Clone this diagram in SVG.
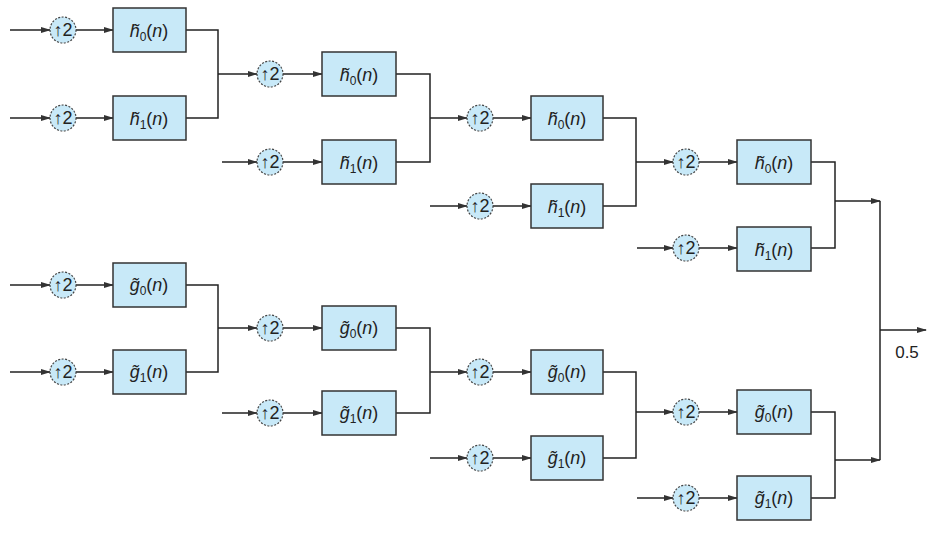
<svg xmlns="http://www.w3.org/2000/svg" width="934" height="535" viewBox="0 0 934 535">
<defs>
<marker id="a" markerWidth="10" markerHeight="8" refX="9" refY="4" orient="auto" markerUnits="userSpaceOnUse"><path d="M0,1 L10,4 L0,7 z" fill="#333"/></marker>
<style>
.b{fill:#c8e9f8;stroke:#333;stroke-width:1.5}
.c{fill:#c8e9f8;stroke:#444;stroke-width:1.2;stroke-dasharray:2 1.5}
.l{fill:none;stroke:#222;stroke-width:1.5}
.w{stroke:#222;stroke-width:1.5;marker-end:url(#a)}
.t{font-family:"Liberation Sans",Arial,sans-serif;font-size:18px;fill:#222;text-anchor:middle}
.i{font-style:italic}
.s{font-size:12px}
</style>
</defs>
<g id="connectors">
<!-- h stage1 -->
<line class="w" x1="10" y1="30" x2="50" y2="30"/><line class="w" x1="76" y1="30" x2="113" y2="30"/>
<line class="w" x1="10" y1="118" x2="50" y2="118"/><line class="w" x1="76" y1="118" x2="113" y2="118"/>
<path class="l" d="M186,30 H218 V118 H186"/><line class="w" x1="218" y1="74" x2="257" y2="74"/>
<!-- h stage2 -->
<line class="w" x1="283" y1="74" x2="322" y2="74"/>
<line class="w" x1="222" y1="162" x2="257" y2="162"/><line class="w" x1="283" y1="162" x2="322" y2="162"/>
<path class="l" d="M396,74 H430 V162 H396"/><line class="w" x1="430" y1="118" x2="467" y2="118"/>
<!-- h stage3 -->
<line class="w" x1="493" y1="118" x2="531" y2="118"/>
<line class="w" x1="430" y1="206" x2="467" y2="206"/><line class="w" x1="493" y1="206" x2="531" y2="206"/>
<path class="l" d="M603,118 H636 V206 H603"/><line class="w" x1="636" y1="162" x2="673" y2="162"/>
<!-- h stage4 -->
<line class="w" x1="699" y1="162" x2="737" y2="162"/>
<line class="w" x1="637" y1="248" x2="673" y2="248"/><line class="w" x1="699" y1="248" x2="737" y2="248"/>
<path class="l" d="M811,162 H835 V248 H811"/><line class="w" x1="835" y1="201" x2="880" y2="201"/>
<!-- g stage1 -->
<line class="w" x1="10" y1="285" x2="50" y2="285"/><line class="w" x1="76" y1="285" x2="113" y2="285"/>
<line class="w" x1="10" y1="372" x2="50" y2="372"/><line class="w" x1="76" y1="372" x2="113" y2="372"/>
<path class="l" d="M186,285 H218 V372 H186"/><line class="w" x1="218" y1="328" x2="257" y2="328"/>
<!-- g stage2 -->
<line class="w" x1="283" y1="328" x2="322" y2="328"/>
<line class="w" x1="222" y1="413" x2="257" y2="413"/><line class="w" x1="283" y1="413" x2="322" y2="413"/>
<path class="l" d="M396,328 H430 V413 H396"/><line class="w" x1="430" y1="372" x2="467" y2="372"/>
<!-- g stage3 -->
<line class="w" x1="493" y1="372" x2="531" y2="372"/>
<line class="w" x1="430" y1="458" x2="467" y2="458"/><line class="w" x1="493" y1="458" x2="531" y2="458"/>
<path class="l" d="M603,372 H636 V458 H603"/><line class="w" x1="636" y1="412" x2="673" y2="412"/>
<!-- g stage4 -->
<line class="w" x1="699" y1="412" x2="737" y2="412"/>
<line class="w" x1="637" y1="498" x2="673" y2="498"/><line class="w" x1="699" y1="498" x2="737" y2="498"/>
<path class="l" d="M811,412 H835 V498 H811"/><line class="w" x1="835" y1="460" x2="880" y2="460"/>
<!-- final -->
<line class="l" x1="880" y1="201" x2="880" y2="460"/>
<line class="w" x1="880" y1="330" x2="926" y2="330"/>
</g>
<text class="t" x="907" y="358" style="font-size:17px">0.5</text>
<g id="up">
<g id="u1"><circle class="c" cx="63" cy="30" r="13"/><text class="t" x="63" y="36">↑2</text></g>
<g id="u2"><circle class="c" cx="63" cy="118" r="13"/><text class="t" x="63" y="124">↑2</text></g>
<g id="u3"><circle class="c" cx="270" cy="74" r="13"/><text class="t" x="270" y="80">↑2</text></g>
<g id="u4"><circle class="c" cx="270" cy="162" r="13"/><text class="t" x="270" y="168">↑2</text></g>
<g id="u5"><circle class="c" cx="480" cy="118" r="13"/><text class="t" x="480" y="124">↑2</text></g>
<g id="u6"><circle class="c" cx="480" cy="206" r="13"/><text class="t" x="480" y="212">↑2</text></g>
<g id="u7"><circle class="c" cx="686" cy="162" r="13"/><text class="t" x="686" y="168">↑2</text></g>
<g id="u8"><circle class="c" cx="686" cy="248" r="13"/><text class="t" x="686" y="254">↑2</text></g>
<g id="u9"><circle class="c" cx="63" cy="285" r="13"/><text class="t" x="63" y="291">↑2</text></g>
<g id="u10"><circle class="c" cx="63" cy="372" r="13"/><text class="t" x="63" y="378">↑2</text></g>
<g id="u11"><circle class="c" cx="270" cy="328" r="13"/><text class="t" x="270" y="334">↑2</text></g>
<g id="u12"><circle class="c" cx="270" cy="413" r="13"/><text class="t" x="270" y="419">↑2</text></g>
<g id="u13"><circle class="c" cx="480" cy="372" r="13"/><text class="t" x="480" y="378">↑2</text></g>
<g id="u14"><circle class="c" cx="480" cy="458" r="13"/><text class="t" x="480" y="464">↑2</text></g>
<g id="u15"><circle class="c" cx="686" cy="412" r="13"/><text class="t" x="686" y="418">↑2</text></g>
<g id="u16"><circle class="c" cx="686" cy="498" r="13"/><text class="t" x="686" y="504">↑2</text></g>
</g>
<g id="filters">
<g id="f1"><rect class="b" x="113" y="8" width="73" height="44"/><text class="t" x="149" y="37"><tspan class="i">h̃</tspan><tspan class="s" dy="4">0</tspan><tspan dy="-4">(</tspan><tspan class="i">n</tspan>)</text></g>
<g id="f2"><rect class="b" x="113" y="96" width="73" height="44"/><text class="t" x="149" y="125"><tspan class="i">h̃</tspan><tspan class="s" dy="4">1</tspan><tspan dy="-4">(</tspan><tspan class="i">n</tspan>)</text></g>
<g id="f3"><rect class="b" x="322" y="52" width="74" height="44"/><text class="t" x="359" y="81"><tspan class="i">h̃</tspan><tspan class="s" dy="4">0</tspan><tspan dy="-4">(</tspan><tspan class="i">n</tspan>)</text></g>
<g id="f4"><rect class="b" x="322" y="140" width="74" height="44"/><text class="t" x="359" y="169"><tspan class="i">h̃</tspan><tspan class="s" dy="4">1</tspan><tspan dy="-4">(</tspan><tspan class="i">n</tspan>)</text></g>
<g id="f5"><rect class="b" x="531" y="96" width="72" height="44"/><text class="t" x="567" y="125"><tspan class="i">h̃</tspan><tspan class="s" dy="4">0</tspan><tspan dy="-4">(</tspan><tspan class="i">n</tspan>)</text></g>
<g id="f6"><rect class="b" x="531" y="184" width="72" height="44"/><text class="t" x="567" y="213"><tspan class="i">h̃</tspan><tspan class="s" dy="4">1</tspan><tspan dy="-4">(</tspan><tspan class="i">n</tspan>)</text></g>
<g id="f7"><rect class="b" x="737" y="140" width="74" height="44"/><text class="t" x="774" y="169"><tspan class="i">h̃</tspan><tspan class="s" dy="4">0</tspan><tspan dy="-4">(</tspan><tspan class="i">n</tspan>)</text></g>
<g id="f8"><rect class="b" x="737" y="227" width="74" height="44"/><text class="t" x="774" y="256"><tspan class="i">h̃</tspan><tspan class="s" dy="4">1</tspan><tspan dy="-4">(</tspan><tspan class="i">n</tspan>)</text></g>
<g id="f9"><rect class="b" x="113" y="263" width="73" height="44"/><text class="t" x="149" y="291"><tspan class="i">g̃</tspan><tspan class="s" dy="4">0</tspan><tspan dy="-4">(</tspan><tspan class="i">n</tspan>)</text></g>
<g id="f10"><rect class="b" x="113" y="350" width="73" height="44"/><text class="t" x="149" y="378"><tspan class="i">g̃</tspan><tspan class="s" dy="4">1</tspan><tspan dy="-4">(</tspan><tspan class="i">n</tspan>)</text></g>
<g id="f11"><rect class="b" x="322" y="306" width="74" height="44"/><text class="t" x="359" y="334"><tspan class="i">g̃</tspan><tspan class="s" dy="4">0</tspan><tspan dy="-4">(</tspan><tspan class="i">n</tspan>)</text></g>
<g id="f12"><rect class="b" x="322" y="391" width="74" height="44"/><text class="t" x="359" y="419"><tspan class="i">g̃</tspan><tspan class="s" dy="4">1</tspan><tspan dy="-4">(</tspan><tspan class="i">n</tspan>)</text></g>
<g id="f13"><rect class="b" x="531" y="350" width="72" height="44"/><text class="t" x="567" y="378"><tspan class="i">g̃</tspan><tspan class="s" dy="4">0</tspan><tspan dy="-4">(</tspan><tspan class="i">n</tspan>)</text></g>
<g id="f14"><rect class="b" x="531" y="436" width="72" height="44"/><text class="t" x="567" y="464"><tspan class="i">g̃</tspan><tspan class="s" dy="4">1</tspan><tspan dy="-4">(</tspan><tspan class="i">n</tspan>)</text></g>
<g id="f15"><rect class="b" x="737" y="390" width="74" height="44"/><text class="t" x="774" y="418"><tspan class="i">g̃</tspan><tspan class="s" dy="4">0</tspan><tspan dy="-4">(</tspan><tspan class="i">n</tspan>)</text></g>
<g id="f16"><rect class="b" x="737" y="476" width="74" height="44"/><text class="t" x="774" y="504"><tspan class="i">g̃</tspan><tspan class="s" dy="4">1</tspan><tspan dy="-4">(</tspan><tspan class="i">n</tspan>)</text></g>
</g>
</svg>
